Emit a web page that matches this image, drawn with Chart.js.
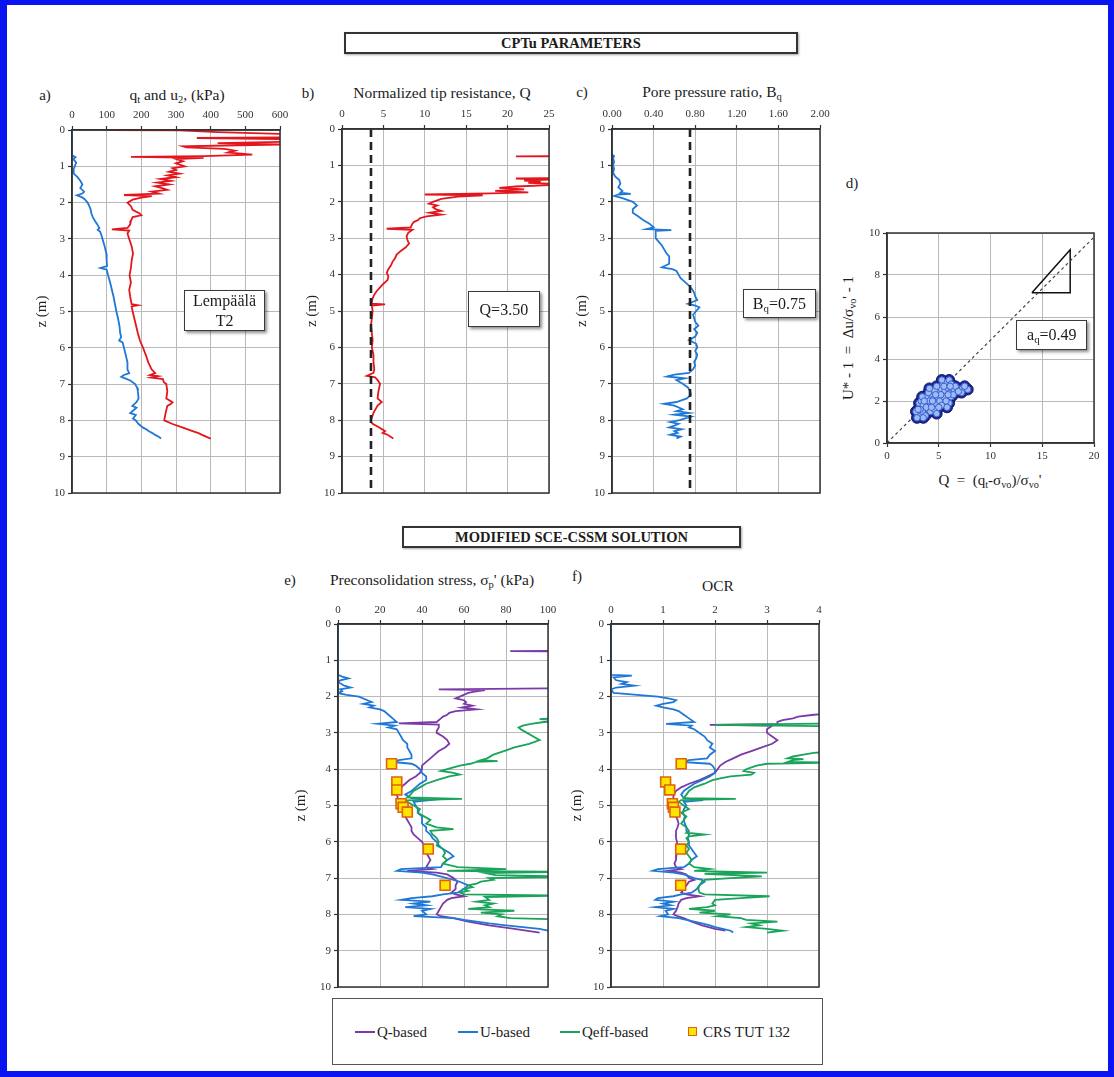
<!DOCTYPE html>
<html lang="en">
<head>
<meta charset="utf-8">
<title>CPTu parameters and modified SCE-CSSM solution – Lempäälä T2</title>
<script src="https://cdn.jsdelivr.net/npm/chart.js@4.4.1/dist/chart.umd.min.js"></script>
<style>
  html, body { margin:0; padding:0; background:#fff; }
  #page { position:relative; width:1114px; height:1077px; overflow:hidden; background:#fff;
          font-family:"Liberation Serif","Times New Roman",serif; color:#1c1c1c; }
  #page canvas { position:absolute; }
  .lbl { position:absolute; white-space:nowrap; transform:translate(-50%,-50%); font-size:15px; line-height:1; }
  .lbl.t { font-size:15.5px; }
  .lbl.l { transform:translate(0,-50%); }
  .lbl sub { font-size:0.68em; vertical-align:-0.3em; line-height:0; }
  .rot { transform:translate(-50%,-50%) rotate(-90deg); }
  .head { position:absolute; border:2px solid #333; box-sizing:border-box; font-weight:bold; font-size:14.5px;
          text-align:center; background:#fff; display:flex; align-items:center; justify-content:center;
          box-shadow:1px 1px 2px rgba(0,0,0,.35); }
  .note { position:absolute; box-sizing:border-box; border:1.5px solid #3a3a3a; background:#fff;
          box-shadow:2px 2px 3px rgba(0,0,0,.45); font-size:16px; text-align:center; display:flex;
          align-items:center; justify-content:center; line-height:1.2; }
  .note sub { font-size:0.68em; vertical-align:-0.3em; line-height:0; }
  #legend { position:absolute; left:332px; top:998px; width:491px; height:67px; box-sizing:border-box;
            border:1.5px solid #555; background:#fff; }
  .swatch { position:absolute; height:2px; width:20px; }
  .sq { position:absolute; width:7px; height:7px; background:#ffe400; border:1.5px solid #e0620a; }
  #frame { position:absolute; left:0; top:0; width:1114px; height:1077px; box-sizing:border-box;
           border-style:solid; border-color:#0a14f0; border-width:5px 6px 6px 7px; pointer-events:none; }
</style>
</head>
<body>
<div id="page">
  <div class="head" style="left:344px;top:32px;width:454px;height:22px">CPTu PARAMETERS</div>
  <div class="head" style="left:402px;top:526px;width:339px;height:22px">MODIFIED SCE-CSSM SOLUTION</div>

  <div class="lbl" style="left:45px;top:95px">a)</div>
  <div class="lbl t" style="left:177px;top:95px">q<sub>t</sub> and u<sub>2</sub>, (kPa)</div>
  <div class="lbl" style="left:308px;top:93px">b)</div>
  <div class="lbl t" style="left:442px;top:93px">Normalized tip resistance, Q</div>
  <div class="lbl" style="left:582px;top:92px">c)</div>
  <div class="lbl t" style="left:712px;top:92px">Pore pressure ratio, B<sub>q</sub></div>
  <div class="lbl" style="left:852px;top:183px">d)</div>
  <div class="lbl rot" style="left:848px;top:338px">U* - 1 &nbsp;= &nbsp;Δu/σ<sub>vo</sub>' - 1</div>
  <div class="lbl" style="left:990px;top:480px">Q &nbsp;= &nbsp;(q<sub>t</sub>-σ<sub>vo</sub>)/σ<sub>vo</sub>'</div>
  <div class="lbl" style="left:290px;top:580px">e)</div>
  <div class="lbl t" style="left:432px;top:580px">Preconsolidation stress, σ<sub>p</sub>' (kPa)</div>
  <div class="lbl" style="left:577px;top:576px">f)</div>
  <div class="lbl t" style="left:718px;top:586px">OCR</div>

  <canvas id="chartA"></canvas>
  <canvas id="chartB"></canvas>
  <canvas id="chartC"></canvas>
  <canvas id="chartD"></canvas>
  <canvas id="chartE"></canvas>
  <canvas id="chartF"></canvas>

  <div class="note" id="noteA"><span>Lempäälä<br>T2</span></div>
  <div class="note" id="noteB"><span>Q=3.50</span></div>
  <div class="note" id="noteC"><span>B<sub>q</sub>=0.75</span></div>
  <div class="note" id="noteD"><span>a<sub>q</sub>=0.49</span></div>

  <div id="legend"></div>
  <div class="swatch" style="left:355px;top:1031px;background:#7b3aa8"></div>
  <div class="lbl l" style="left:377px;top:1032px">Q-based</div>
  <div class="swatch" style="left:458px;top:1031px;background:#1f78d6"></div>
  <div class="lbl l" style="left:480px;top:1032px">U-based</div>
  <div class="swatch" style="left:560px;top:1031px;background:#1aa35a"></div>
  <div class="lbl l" style="left:582px;top:1032px">Qeff-based</div>
  <div class="sq" style="left:688px;top:1027px"></div>
  <div class="lbl l" style="left:703px;top:1032px">CRS TUT 132</div>

  <div id="frame"></div>
</div>

<script>
// ---------------------------------------------------------------------------
// Profiles are stored as [depth z (m), value] pairs.
// ---------------------------------------------------------------------------

// a) corrected cone resistance q_t and pore pressure u_2 (kPa)
const qtProfile = [[0,100],[0.01,310],[0.06,420],[0.12,650],[0.2,650],[0.22,360],[0.26,650],[0.32,650],[0.36,420],[0.4,600],[0.45,320],[0.48,330],[0.52,440],[0.57,470],[0.62,450],[0.68,520],[0.72,380],[0.74,170],[0.77,380],[0.8,300],[0.86,320],[0.92,300],[1.0,325],[1.05,290],[1.1,300],[1.15,280],[1.2,310],[1.25,275],[1.3,300],[1.35,255],[1.4,285],[1.45,245],[1.5,280],[1.55,240],[1.6,260],[1.65,275],[1.7,230],[1.75,250],[1.79,150],[1.82,230],[1.86,200],[1.92,175],[2.0,160],[2.1,170],[2.2,175],[2.3,195],[2.35,200],[2.4,175],[2.5,170],[2.6,168],[2.7,160],[2.74,115],[2.77,165],[2.85,160],[3.0,165],[3.2,172],[3.4,176],[3.6,172],[3.8,170],[4.0,166],[4.2,170],[4.4,165],[4.6,168],[4.8,172],[4.83,190],[4.86,172],[5.0,175],[5.2,180],[5.4,185],[5.6,190],[5.8,196],[6.0,205],[6.2,213],[6.4,220],[6.6,230],[6.7,240],[6.75,225],[6.78,248],[6.82,228],[6.86,262],[6.95,265],[7.0,272],[7.2,275],[7.4,272],[7.5,290],[7.55,285],[7.6,275],[7.8,270],[8.0,266],[8.1,290],[8.2,320],[8.3,350],[8.35,365],[8.4,375],[8.5,400]];
const u2Profile = [[0,0],[0.7,0],[0.75,10],[0.8,4],[0.9,12],[1.0,8],[1.1,4],[1.2,5],[1.3,16],[1.4,24],[1.5,30],[1.6,24],[1.7,35],[1.75,30],[1.8,14],[1.85,28],[1.9,36],[2.0,45],[2.1,50],[2.2,54],[2.3,56],[2.4,60],[2.5,66],[2.6,73],[2.7,79],[2.75,74],[2.8,81],[2.9,85],[3.0,88],[3.2,94],[3.4,99],[3.6,100],[3.75,101],[3.8,82],[3.85,100],[4.0,104],[4.2,110],[4.4,115],[4.6,120],[4.8,124],[5.0,128],[5.2,133],[5.4,137],[5.6,139],[5.7,142],[5.8,136],[5.85,146],[6.0,150],[6.2,155],[6.4,160],[6.6,160],[6.7,165],[6.75,150],[6.8,142],[6.85,155],[6.9,168],[7.0,182],[7.1,188],[7.2,190],[7.4,192],[7.5,186],[7.6,174],[7.65,186],[7.7,180],[7.8,168],[7.85,184],[7.95,176],[8.0,184],[8.1,192],[8.2,205],[8.25,215],[8.3,222],[8.35,232],[8.4,240],[8.45,250],[8.5,257]];

// b) normalized tip resistance Q
const QProfile = [[0.74,32],[0.75,21],[0.76,32],[1.34,32],[1.36,21],[1.39,25],[1.42,22],[1.45,24],[1.48,22.5],[1.5,25],[1.53,26],[1.58,21],[1.62,19],[1.66,22],[1.7,18.5],[1.74,22.5],[1.77,18],[1.8,10],[1.82,17],[1.86,14],[1.92,12],[2.0,11],[2.05,10.5],[2.1,11.5],[2.15,11],[2.2,11.3],[2.25,12],[2.3,10.6],[2.35,12],[2.4,10.2],[2.45,9.4],[2.5,9.2],[2.55,8.7],[2.6,8.5],[2.7,8.3],[2.74,5.4],[2.77,8.5],[2.85,8],[2.95,7.8],[3.05,7.9],[3.15,8.1],[3.25,7.7],[3.35,7.1],[3.45,6.6],[3.55,6.4],[3.65,6.1],[3.75,5.9],[3.85,5.6],[3.95,5.4],[4.05,5.6],[4.15,5.5],[4.25,5.0],[4.35,4.6],[4.45,4.2],[4.55,3.9],[4.65,3.7],[4.75,3.6],[4.8,3.6],[4.82,5.2],[4.85,3.6],[5.0,3.7],[5.2,3.6],[5.4,3.5],[5.6,3.6],[5.8,3.7],[6.0,3.6],[6.2,3.8],[6.4,3.8],[6.6,3.9],[6.7,3.8],[6.78,3.0],[6.82,4.0],[6.9,4.3],[7.0,4.6],[7.2,4.4],[7.4,4.3],[7.5,4.8],[7.6,4.3],[7.8,3.8],[8.0,3.5],[8.05,3.5],[8.1,3.7],[8.2,4.5],[8.3,5.2],[8.35,4.9],[8.4,5.5],[8.5,6.2]];
const Q_LIMIT = 3.5;

// c) pore pressure ratio Bq
const BqProfile = [[0,0],[0.7,0],[0.75,0.02],[0.8,0.01],[0.9,0.02],[1.0,0.01],[1.1,0.02],[1.2,0.01],[1.3,0.03],[1.4,0.07],[1.5,0.08],[1.6,0.06],[1.7,0.1],[1.75,0.08],[1.78,0.18],[1.8,0.06],[1.84,0.02],[1.9,0.1],[2.0,0.2],[2.1,0.24],[2.15,0.22],[2.2,0.2],[2.3,0.2],[2.4,0.25],[2.5,0.3],[2.6,0.36],[2.7,0.4],[2.75,0.33],[2.78,0.57],[2.8,0.42],[2.9,0.42],[3.0,0.42],[3.1,0.45],[3.2,0.48],[3.3,0.5],[3.4,0.52],[3.5,0.55],[3.6,0.55],[3.7,0.55],[3.8,0.48],[3.85,0.58],[3.9,0.62],[4.0,0.64],[4.1,0.66],[4.2,0.7],[4.3,0.74],[4.4,0.77],[4.5,0.79],[4.6,0.8],[4.7,0.82],[4.8,0.73],[4.85,0.8],[4.9,0.84],[5.0,0.81],[5.1,0.78],[5.2,0.79],[5.3,0.8],[5.4,0.83],[5.5,0.79],[5.6,0.82],[5.7,0.8],[5.8,0.74],[5.9,0.81],[6.0,0.82],[6.1,0.8],[6.2,0.82],[6.3,0.81],[6.4,0.79],[6.5,0.8],[6.6,0.78],[6.7,0.74],[6.75,0.6],[6.8,0.53],[6.85,0.7],[6.9,0.62],[7.0,0.68],[7.1,0.73],[7.2,0.75],[7.3,0.76],[7.4,0.72],[7.5,0.62],[7.55,0.5],[7.6,0.6],[7.7,0.68],[7.75,0.62],[7.8,0.74],[7.85,0.6],[7.9,0.76],[8.0,0.65],[8.05,0.56],[8.1,0.64],[8.15,0.6],[8.2,0.55],[8.25,0.67],[8.3,0.6],[8.35,0.63],[8.4,0.56],[8.45,0.66],[8.5,0.62]];
const BQ_LIMIT = 0.75;

// d) excess pore pressure against normalized tip resistance
const dQ = [3.0,3.2,3.4,3.3,3.1,3.3,3.5,3.6,3.8,3.9,4.0,4.2,4.1,4.3,4.5,4.4,4.6,4.8,4.7,4.9,5.0,5.2,5.1,5.3,5.5,5.6,5.4,5.8,6.0,5.9,6.1,6.2,6.0,5.8,6.3,6.5,6.8,7.0,7.3,7.6,7.8,3.7,3.5,4.0,4.6,3.2,3.8,4.3,5.0,5.7,6.4,2.8,2.9,4.8,5.3,6.2,7.2,6.6,3.4,4.1,3.6,4.4,5.2,5.9,6.9,7.5,3.0,4.7,5.5,6.1];
const dU = [1.3,1.4,1.5,1.7,1.9,2.0,1.8,2.1,2.2,1.9,1.6,1.5,2.0,2.3,2.1,1.8,1.6,1.4,1.9,2.2,2.4,2.6,2.0,1.8,2.2,2.5,2.8,2.9,3.0,2.6,2.4,2.2,1.9,1.7,2.6,2.5,2.6,2.5,2.6,2.6,2.55,1.3,1.2,2.4,2.5,1.6,1.7,1.7,1.7,2.0,2.3,1.5,1.2,2.7,3.0,2.8,2.4,2.7,2.2,2.6,2.0,2.0,2.3,2.3,2.45,2.7,1.6,2.3,2.7,2.7];
const A_Q = 0.49;
const slopeTriangle = [[14.0,7.15],[17.7,9.2],[17.7,7.15],[14.0,7.15]];

// e) preconsolidation stress (kPa)
const spQbased = [[0.74,110],[0.75,82],[0.76,110],[1.77,110],[1.8,48],[1.82,70],[1.86,65],[1.9,62],[2.0,58],[2.05,56],[2.1,60],[2.15,61],[2.2,60],[2.25,64],[2.3,59],[2.35,66],[2.4,56],[2.45,53],[2.5,52],[2.55,50],[2.6,49],[2.7,47],[2.74,29],[2.77,48],[2.85,48],[2.95,47],[3.0,47],[3.1,50],[3.2,52],[3.3,53],[3.4,51],[3.5,48],[3.6,46],[3.7,44],[3.8,42],[3.9,40],[4.0,40],[4.1,39],[4.2,37],[4.3,34],[4.4,32],[4.5,30],[4.6,29],[4.7,28],[4.8,28.5],[4.9,29],[5.0,30],[5.1,30.5],[5.2,31],[5.3,32],[5.4,33],[5.5,34],[5.6,35],[5.7,35],[5.8,36],[5.9,38],[6.0,40],[6.1,41],[6.2,42],[6.3,42],[6.4,43],[6.5,44],[6.6,43],[6.7,42],[6.75,45],[6.8,33],[6.85,47],[6.9,52],[7.0,55],[7.1,57],[7.2,56],[7.3,56],[7.4,54],[7.45,56],[7.5,60],[7.55,54],[7.6,52],[7.7,50],[7.8,49],[7.9,48],[8.0,47],[8.05,49],[8.1,55],[8.2,62],[8.3,72],[8.4,84],[8.5,96]];
const spUbased = [[0,0],[1.4,0],[1.45,2],[1.5,5],[1.55,1],[1.6,0],[1.7,3],[1.75,6],[1.8,1],[1.85,2],[1.9,0],[1.95,4],[2.0,10],[2.1,14],[2.15,16],[2.2,12],[2.25,17],[2.3,15],[2.35,20],[2.4,22],[2.5,24],[2.6,26],[2.7,28],[2.75,19],[2.8,27],[2.85,24],[2.9,28],[3.0,29],[3.1,30],[3.2,31],[3.3,33],[3.4,33],[3.5,34],[3.6,35],[3.7,35],[3.75,29],[3.8,26],[3.85,35],[3.9,37],[4.0,39],[4.1,40],[4.2,42],[4.3,42],[4.4,39],[4.5,37],[4.6,35],[4.7,32],[4.8,35],[4.85,44],[4.9,36],[5.0,37],[5.1,38],[5.2,38],[5.3,40],[5.4,40],[5.5,40],[5.6,42],[5.7,42],[5.8,44],[5.9,45],[6.0,47],[6.1,48],[6.2,50],[6.3,53],[6.4,55],[6.5,52],[6.6,50],[6.7,49],[6.75,30],[6.8,28],[6.85,40],[6.9,45],[7.0,52],[7.1,58],[7.2,62],[7.3,60],[7.4,57],[7.45,50],[7.5,45],[7.55,35],[7.6,30],[7.65,44],[7.7,36],[7.75,42],[7.8,32],[7.85,44],[7.9,40],[8.0,42],[8.05,36],[8.1,55],[8.15,60],[8.2,66],[8.25,72],[8.3,80],[8.35,88],[8.4,96],[8.45,100],[8.5,102]];
const spQeffbased = [[2.58,110],[2.62,96],[2.66,110],[2.7,98],[2.75,92],[2.8,88],[2.85,86],[2.9,87],[3.0,90],[3.1,93],[3.2,96],[3.3,91],[3.4,84],[3.5,79],[3.6,74],[3.7,71],[3.75,68],[3.78,76],[3.8,66],[3.85,63],[3.9,58],[4.0,52],[4.05,49],[4.1,55],[4.15,58],[4.2,53],[4.3,47],[4.4,42],[4.5,39],[4.6,36],[4.7,34.5],[4.78,33],[4.82,59],[4.86,31],[4.9,33],[5.0,36],[5.1,39],[5.2,38],[5.3,41],[5.4,44],[5.5,42],[5.6,47],[5.65,55],[5.7,44],[5.8,45],[5.9,47],[6.0,48],[6.1,47],[6.2,50],[6.3,51],[6.4,50],[6.5,52],[6.6,50],[6.7,57],[6.75,80],[6.8,52],[6.83,110],[6.86,70],[6.92,75],[6.96,110],[7.0,72],[7.05,74],[7.1,68],[7.15,66],[7.2,62],[7.25,64],[7.3,60],[7.35,62],[7.4,58],[7.45,60],[7.48,110],[7.52,70],[7.6,72],[7.65,66],[7.7,74],[7.75,70],[7.8,72],[7.85,62],[7.9,84],[7.95,68],[8.0,78],[8.05,76],[8.1,82],[8.15,110]];

// f) overconsolidation ratio
const ocrQbased = [[2.46,4.4],[2.5,3.9],[2.55,3.6],[2.6,3.5],[2.65,3.3],[2.7,3.2],[2.76,3.2],[2.78,1.9],[2.8,3.1],[2.9,3.0],[3.0,3.0],[3.1,3.1],[3.2,3.2],[3.3,3.1],[3.4,2.9],[3.5,2.7],[3.6,2.5],[3.7,2.35],[3.8,2.2],[3.9,2.1],[4.0,2.05],[4.1,2.0],[4.2,1.85],[4.3,1.7],[4.4,1.5],[4.5,1.35],[4.6,1.25],[4.7,1.2],[4.8,1.2],[4.9,1.22],[5.0,1.22],[5.1,1.23],[5.2,1.22],[5.3,1.25],[5.4,1.28],[5.5,1.3],[5.6,1.28],[5.7,1.25],[5.8,1.25],[5.9,1.25],[6.0,1.27],[6.1,1.27],[6.2,1.27],[6.3,1.26],[6.4,1.25],[6.5,1.25],[6.6,1.22],[6.7,1.25],[6.75,1.35],[6.8,1.1],[6.85,1.35],[6.9,1.45],[7.0,1.5],[7.05,1.6],[7.1,1.5],[7.2,1.45],[7.3,1.4],[7.4,1.35],[7.45,1.45],[7.5,1.7],[7.55,1.45],[7.6,1.35],[7.7,1.3],[7.8,1.28],[7.9,1.25],[8.0,1.2],[8.05,1.28],[8.1,1.4],[8.2,1.55],[8.3,1.75],[8.4,2.0],[8.45,2.2]];
const ocrUbased = [[0,0],[1.4,0],[1.42,0.4],[1.47,0.05],[1.55,0.1],[1.6,0.3],[1.65,0.2],[1.7,0.45],[1.75,0.1],[1.8,0],[1.9,0.05],[1.95,0.5],[2.0,0.9],[2.05,1.1],[2.1,1.25],[2.15,1.2],[2.2,1.0],[2.25,0.87],[2.3,1.0],[2.35,1.2],[2.4,1.3],[2.5,1.4],[2.6,1.5],[2.7,1.6],[2.75,1.06],[2.8,1.55],[2.85,1.5],[2.9,1.6],[3.0,1.7],[3.1,1.8],[3.2,1.85],[3.3,1.95],[3.4,1.9],[3.5,2.0],[3.6,1.9],[3.7,1.85],[3.75,1.5],[3.8,1.35],[3.85,1.9],[3.9,1.95],[4.0,2.0],[4.1,2.0],[4.2,1.9],[4.3,1.75],[4.4,1.6],[4.5,1.5],[4.6,1.4],[4.7,1.35],[4.8,1.4],[4.85,1.77],[4.9,1.4],[5.0,1.45],[5.1,1.4],[5.2,1.38],[5.3,1.42],[5.4,1.4],[5.5,1.42],[5.6,1.45],[5.7,1.45],[5.8,1.5],[5.9,1.48],[6.0,1.5],[6.1,1.5],[6.2,1.55],[6.3,1.6],[6.4,1.65],[6.5,1.55],[6.6,1.5],[6.7,1.4],[6.75,0.9],[6.8,0.8],[6.85,1.2],[6.9,1.4],[7.0,1.6],[7.05,1.75],[7.1,1.8],[7.2,1.7],[7.3,1.65],[7.4,1.55],[7.45,1.35],[7.5,1.2],[7.55,0.9],[7.6,0.85],[7.65,1.2],[7.7,1.0],[7.75,1.15],[7.8,0.85],[7.85,1.2],[7.9,1.05],[8.0,1.1],[8.05,0.95],[8.1,1.3],[8.15,1.45],[8.2,1.6],[8.25,1.75],[8.3,1.9],[8.35,2.0],[8.4,2.15],[8.45,2.3],[8.5,2.35]];
const ocrQeffbased = [[2.74,4.4],[2.78,2.0],[2.82,4.4],[3.5,4.4],[3.55,3.9],[3.6,3.7],[3.65,3.5],[3.7,3.4],[3.72,3.7],[3.75,3.5],[3.8,3.4],[3.82,4.2],[3.85,3.0],[3.9,2.8],[3.95,2.7],[4.0,2.6],[4.05,2.55],[4.1,2.75],[4.15,2.7],[4.2,2.3],[4.25,2.1],[4.3,1.95],[4.4,1.8],[4.5,1.6],[4.6,1.5],[4.7,1.45],[4.8,1.4],[4.82,2.4],[4.85,1.35],[4.9,1.3],[5.0,1.4],[5.1,1.5],[5.2,1.35],[5.3,1.45],[5.4,1.4],[5.5,1.35],[5.6,1.45],[5.7,1.5],[5.75,1.45],[5.8,1.8],[5.85,1.5],[5.9,1.45],[6.0,1.5],[6.1,1.45],[6.2,1.5],[6.3,1.45],[6.4,1.5],[6.5,1.55],[6.6,1.5],[6.7,1.6],[6.75,1.9],[6.8,1.6],[6.85,3.0],[6.88,1.8],[6.95,2.9],[7.0,2.3],[7.05,1.8],[7.1,1.75],[7.2,1.7],[7.3,1.68],[7.4,1.7],[7.45,1.8],[7.5,3.05],[7.55,2.5],[7.6,2.0],[7.7,1.95],[7.75,2.0],[7.8,1.85],[7.85,1.5],[7.9,2.0],[7.95,1.7],[8.0,2.3],[8.05,2.05],[8.1,2.5],[8.15,2.6],[8.2,3.2],[8.25,2.7],[8.3,2.85],[8.35,2.6],[8.4,3.0],[8.45,3.3],[8.5,3.0]];

// CRS oedometer tests (TUT 132)
const crsDepth  = [3.85, 4.35, 4.57, 4.95, 5.05, 5.18, 6.2, 7.2];
const crsStress = [25.5, 28, 28, 30, 31, 33, 43, 51];
const crsOCR    = [1.35, 1.05, 1.13, 1.18, 1.2, 1.23, 1.34, 1.34];

// ---------------------------------------------------------------------------
const SERIF = '"Liberation Serif", "Times New Roman", serif';
Chart.defaults.font.family = SERIF;
Chart.defaults.color = '#2a2a2a';

const RED = '#e3161d', BLUE = '#1f78d6', PURPLE = '#7b3aa8', GREEN = '#1aa35a';

const profile = p => p.map(([z, v]) => ({ x: v, y: z }));
const line = (data, color, width = 1.8, dash = []) => ({
  data, showLine: true, borderColor: color, borderWidth: width, borderDash: dash,
  pointRadius: 0, fill: false
});

// plot frame drawn round the chart area
const framePlugin = {
  id: 'frame',
  afterDatasetsDraw(chart) {
    const { ctx, chartArea: a } = chart;
    ctx.save();
    ctx.strokeStyle = '#333';
    ctx.lineWidth = 1.5;
    ctx.strokeRect(a.left, a.top, a.right - a.left, a.bottom - a.top);
    ctx.restore();
  }
};

function axis(min, max, step, position, fmt, tickPad) {
  return {
    type: 'linear', position, min, max,
    ticks: { stepSize: step, autoSkip: false, maxRotation: 0, padding: tickPad,
             font: { size: 11, family: SERIF }, color: '#333', callback: fmt || (v => v) },
    grid: { color: '#b9b9b9', lineWidth: 1, tickLength: 4, tickColor: '#333', tickWidth: 1.2 },
    border: { color: '#333', width: 1.5 }
  };
}

function place(id, area, pad) {
  const cv = document.getElementById(id);
  const w = pad.l + (area.x1 - area.x0) + pad.r;
  const h = pad.t + (area.y1 - area.y0) + pad.b;
  cv.width = w; cv.height = h;
  cv.style.width = w + 'px'; cv.style.height = h + 'px';
  cv.style.left = (area.x0 - pad.l) + 'px';
  cv.style.top = (area.y0 - pad.t) + 'px';
  return cv;
}

// depth profile panel: value axis on top, depth axis downwards
function depthPanel(id, area, pad, xAxis, titlePad, datasets) {
  const cv = place(id, area, pad);
  xAxis.afterFit = s => { s.height = pad.t; };
  const yAxis = axis(0, 10, 1, 'left', null, 3);
  yAxis.reverse = true;
  yAxis.title = { display: true, text: 'z (m)', font: { size: 15, family: SERIF }, color: '#222',
                  padding: { top: titlePad, bottom: 0 } };
  yAxis.afterFit = s => { s.width = pad.l; };
  return new Chart(cv, {
    type: 'scatter',
    data: { datasets },
    options: {
      responsive: false, animation: false, events: [],
      layout: { padding: { left: 0, top: 0, right: pad.r, bottom: pad.b } },
      plugins: { legend: { display: false }, tooltip: { enabled: false } },
      scales: { x: xAxis, y: yAxis }
    },
    plugins: [framePlugin]
  });
}

// position an HTML note box from data coordinates of a chart
function placeNote(id, chart, x0, x1, y0, y1) {
  const el = document.getElementById(id);
  const L = parseFloat(chart.canvas.style.left), T = parseFloat(chart.canvas.style.top);
  const xs = chart.scales.x, ys = chart.scales.y;
  const a = xs.getPixelForValue(x0), b = xs.getPixelForValue(x1);
  const c = ys.getPixelForValue(y0), d = ys.getPixelForValue(y1);
  el.style.left = (L + Math.min(a, b)) + 'px';
  el.style.top = (T + Math.min(c, d)) + 'px';
  el.style.width = Math.abs(b - a) + 'px';
  el.style.height = Math.abs(d - c) + 'px';
}

const TOP_PAD = { l: 40, t: 24, r: 16, b: 10 };
const BOT_PAD = { l: 48, t: 20, r: 16, b: 10 };

// a)
const chartA = depthPanel('chartA', { x0: 72, x1: 280, y0: 130, y1: 493 }, TOP_PAD,
  axis(0, 600, 100, 'top', null, 4), 1,
  [line(profile(qtProfile), RED), line(profile(u2Profile), BLUE)]);
placeNote('noteA', chartA, 323, 557, 4.4, 5.55);

// b)
const chartB = depthPanel('chartB', { x0: 342, x1: 549, y0: 129, y1: 493 }, TOP_PAD,
  axis(0, 25, 5, 'top', null, 4), 1,
  [line([{ x: Q_LIMIT, y: 0 }, { x: Q_LIMIT, y: 10 }], '#222', 2.6, [8, 5]),
   line(profile(QProfile), RED)]);
placeNote('noteB', chartB, 15.2, 23.9, 4.45, 5.45);

// c)
const chartC = depthPanel('chartC', { x0: 612, x1: 820, y0: 129, y1: 493 }, TOP_PAD,
  axis(0, 2, 0.4, 'top', v => v.toFixed(2), 4), 1,
  [line([{ x: BQ_LIMIT, y: 0 }, { x: BQ_LIMIT, y: 10 }], '#222', 2.6, [8, 5]),
   line(profile(BqProfile), BLUE)]);
placeNote('noteC', chartC, 1.26, 1.96, 4.4, 5.2);

// d)
(function () {
  const area = { x0: 887, x1: 1094, y0: 233, y1: 443 };
  const pad = { l: 30, t: 10, r: 14, b: 22 };
  const cv = place('chartD', area, pad);
  const xAxis = axis(0, 20, 5, 'bottom', null, 3);
  xAxis.afterFit = s => { s.height = pad.b; };
  const yAxis = axis(0, 10, 2, 'left', null, 3);
  yAxis.afterFit = s => { s.width = pad.l; };
  const cloud = dQ.map((q, i) => ({ x: q, y: dU[i] }));
  const chartD = new Chart(cv, {
    type: 'scatter',
    data: {
      datasets: [
        // light inner markers over a dark halo of the same points
        { data: cloud, pointRadius: 3.2, pointBackgroundColor: '#9dbcf6',
          pointBorderColor: '#3c5fd0', pointBorderWidth: 1 },
        { data: cloud, pointRadius: 5.5, pointBackgroundColor: '#1c2690',
          pointBorderColor: '#141c70', pointBorderWidth: 1 },
        line([{ x: 0, y: 0 }, { x: 20, y: A_Q * 20 }], '#444', 1.2, [3, 3]),
        line(slopeTriangle.map(([x, y]) => ({ x, y })), '#111', 1.5)
      ]
    },
    options: {
      responsive: false, animation: false, events: [],
      layout: { padding: { left: 0, top: pad.t, right: pad.r, bottom: 0 } },
      plugins: { legend: { display: false }, tooltip: { enabled: false } },
      scales: { x: xAxis, y: yAxis }
    },
    plugins: [framePlugin]
  });
  placeNote('noteD', chartD, 12.5, 19.35, 5.88, 4.43);
})();

// e) and f) share the CRS test depths
const crsSeries = (vals) => ({
  data: crsDepth.map((z, i) => ({ x: vals[i], y: z })),
  pointStyle: 'rect', pointRadius: 7, pointBackgroundColor: '#ffe400',
  pointBorderColor: '#e0620a', pointBorderWidth: 1.6, showLine: false
});

depthPanel('chartE', { x0: 338, x1: 548, y0: 624, y1: 987 }, BOT_PAD,
  axis(0, 100, 20, 'top', null, 3), 2,
  [crsSeries(crsStress),
   line(profile(spQeffbased), GREEN),
   line(profile(spUbased), BLUE),
   line(profile(spQbased), PURPLE)]);

depthPanel('chartF', { x0: 611, x1: 819, y0: 624, y1: 987 }, BOT_PAD,
  axis(0, 4, 1, 'top', null, 3), 5,
  [crsSeries(crsOCR),
   line(profile(ocrQeffbased), GREEN),
   line(profile(ocrUbased), BLUE),
   line(profile(ocrQbased), PURPLE)]);
</script>
</body>
</html>
